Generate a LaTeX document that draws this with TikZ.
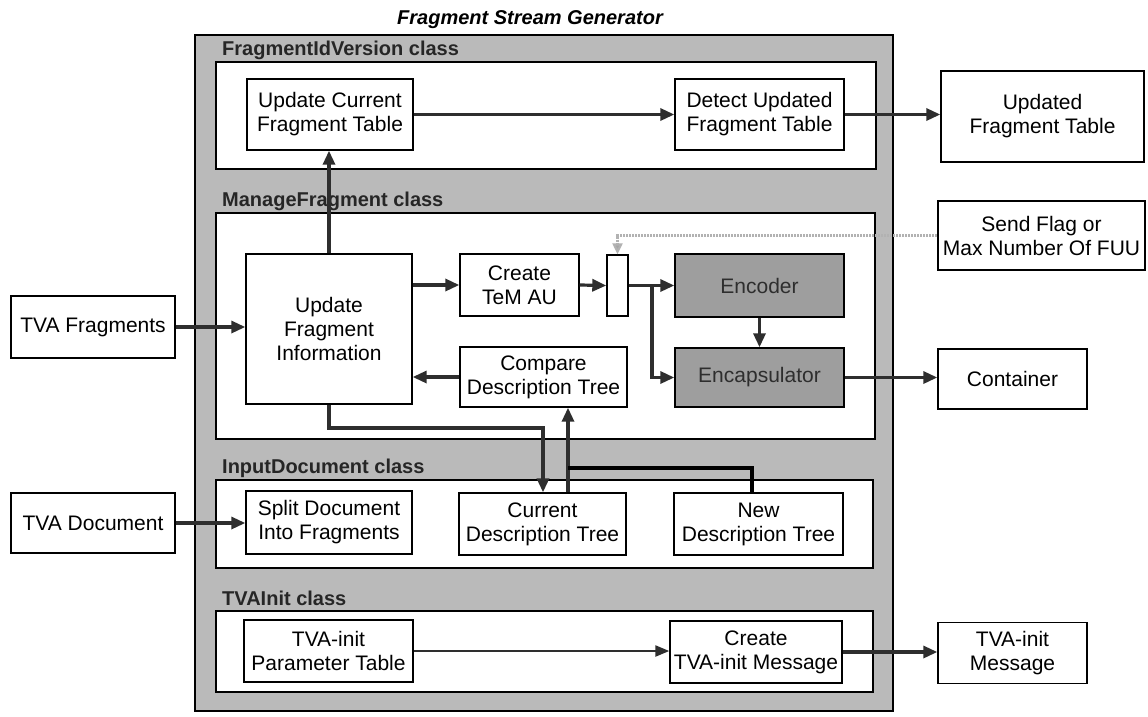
\documentclass[tikz,border=0pt]{standalone}
\usepackage{fontspec}
\setmainfont{Liberation Sans}
\usetikzlibrary{arrows.meta,calc}
\tikzset{
  bx/.style={draw=black, line width=1.4pt, fill=white, align=center, inner sep=0pt,
    font=\fontsize{21}{24}\selectfont, text=black},
  gbx/.style={bx, fill=black!38, text=black!82},
  panel/.style={draw=black, line width=1.4pt, fill=white},
  outer/.style={draw=black, line width=1.3pt, fill=black!27},
  hdr/.style={anchor=base west, inner sep=0pt, text=black!85,
    font=\fontsize{20}{24}\selectfont\bfseries},
  ttl/.style={anchor=base west, inner sep=0pt, text=black,
    font=\fontsize{20}{24}\selectfont\bfseries\itshape},
  con/.style={draw=black!82, line width=3.2pt, -{Triangle[length=14pt,width=12pt]}},
  conthin/.style={draw=black!82, line width=2.3pt, -{Triangle[length=14pt,width=11pt]}},
  thickline/.style={draw=black, line width=4.5pt},
  ctrl/.style={draw=black!30, line width=2.2pt, dash pattern=on 2pt off 1pt,
    -{Triangle[length=11pt,width=10pt,fill=black!35]}}
}
\begin{document}
\begin{tikzpicture}[x=1pt,y=-1pt]
\useasboundingbox (0,0) rectangle (1148,716);
\fill[white] (0,0) rectangle (1148,716);

% title
\node[ttl] (title) at (397,24) {Fragment Stream Generator};

% outer gray container
\path[outer] (195,35) rectangle (893,711);

% class panels
\path[panel] (216,62) rectangle (876,169);
\path[panel] (216,213) rectangle (875,439);
\path[panel] (216,480) rectangle (873,568);
\path[panel] (216,611) rectangle (873,692);

% headers
\node[hdr] (h1) at (222,55) {FragmentIdVersion class};
\node[hdr] (h2) at (222,206) {ManageFragment class};
\node[hdr] (h3) at (222,473) {InputDocument class};
\node[hdr] (h4) at (222,605) {TVAInit class};

% FragmentIdVersion class
\node[bx, minimum width=166pt, minimum height=71pt] (ucft) at (330,114.5) {Update Current\\Fragment Table};
\node[bx, minimum width=169pt, minimum height=71pt] (duft) at (759.5,114.5) {Detect Updated\\Fragment Table};
\node[bx, minimum width=203pt, minimum height=91pt] (uft) at (1042.5,116.5) {Updated\\Fragment Table};

% ManageFragment class
\node[bx, minimum width=166pt, minimum height=150pt] (ufi) at (329,329) {Update\\Fragment\\Information};
\node[bx, minimum width=119pt, minimum height=62pt] (cta) at (519.5,285) {Create\\TeM AU};
\node[bx, minimum width=21pt, minimum height=61pt] (srect) at (617.5,285.5) {};
\node[gbx, minimum width=169pt, minimum height=63pt] (enc) at (759.5,285.5) {Encoder};
\node[gbx, minimum width=169pt, minimum height=59pt] (encap) at (759.5,377.5) {Encapsulator};
\node[bx, minimum width=167pt, minimum height=60pt] (cdt) at (543.5,377) {Compare\\Description Tree};

\node[bx, minimum width=207pt, minimum height=69pt] (sendflag) at (1041.5,235.5) {Send Flag or\\Max Number Of FUU};
\node[bx, minimum width=149pt, minimum height=60pt] (container) at (1012.5,379) {Container};
\node[bx, minimum width=164pt, minimum height=62pt] (tvafrag) at (93,327) {TVA Fragments};

% InputDocument class
\node[bx, minimum width=164pt, minimum height=60pt] (tvadoc) at (93,523) {TVA Document};
\node[bx, minimum width=166pt, minimum height=63pt] (split) at (329,522.5) {Split Document\\Into Fragments};
\node[bx, minimum width=167pt, minimum height=62pt] (curdt) at (542.5,524) {Current\\Description Tree};
\node[bx, minimum width=169pt, minimum height=62pt] (newdt) at (758.5,524) {New\\Description Tree};

% TVAInit class
\node[bx, minimum width=169pt, minimum height=62pt] (param) at (328.5,651) {TVA-init\\Parameter Table};
\node[bx, minimum width=172pt, minimum height=62pt] (ctim) at (756,652) {Create\\TVA-init Message};
\node[bx, minimum width=149pt, minimum height=61pt] (tim) at (1012.5,653) {TVA-init\\Message};

% helper coordinates
\coordinate (br) at (652,285.5);
\coordinate (bendA) at (543,428);
\coordinate (colB) at (568,0);
\coordinate (colN) at (752,0);
\coordinate (joinN) at (568,468);

% connectors
\draw[con] (ucft.east) -- (duft.west);
\draw[con] (duft.east) -- (duft.east -| uft.west);
\draw[con] (ufi.north) -- (ufi.north |- ucft.south);
\draw[con] (tvafrag.east) -- (tvafrag.east -| ufi.west);
\draw[con] (ufi.east |- cta.west) -- (cta.west);
\draw[con] (cta.east) -- (srect.west);
\draw[con] (srect.east) -- (enc.west);
\draw[con] (br) |- (encap.west);
\draw[con] (enc.south) -- (encap.north);
\draw[con] (encap.east) -- (encap.east -| container.west);
\draw[con] (cdt.west) -- (cdt.west -| ufi.east);
\draw[con] (ufi.south) |- (bendA) -- (bendA |- curdt.north);
\draw[con] (colB |- curdt.north) -- (colB |- cdt.south);
\draw[thickline] (colN |- newdt.north) |- (joinN);
\draw[ctrl] (sendflag.west) -| (srect.north);
\draw[con] (tvadoc.east) -- (tvadoc.east -| split.west);
\draw[conthin] (param.east) -- (param.east -| ctim.west);
\draw[con] (ctim.east) -- (ctim.east -| tim.west);
\end{tikzpicture}
\end{document}
